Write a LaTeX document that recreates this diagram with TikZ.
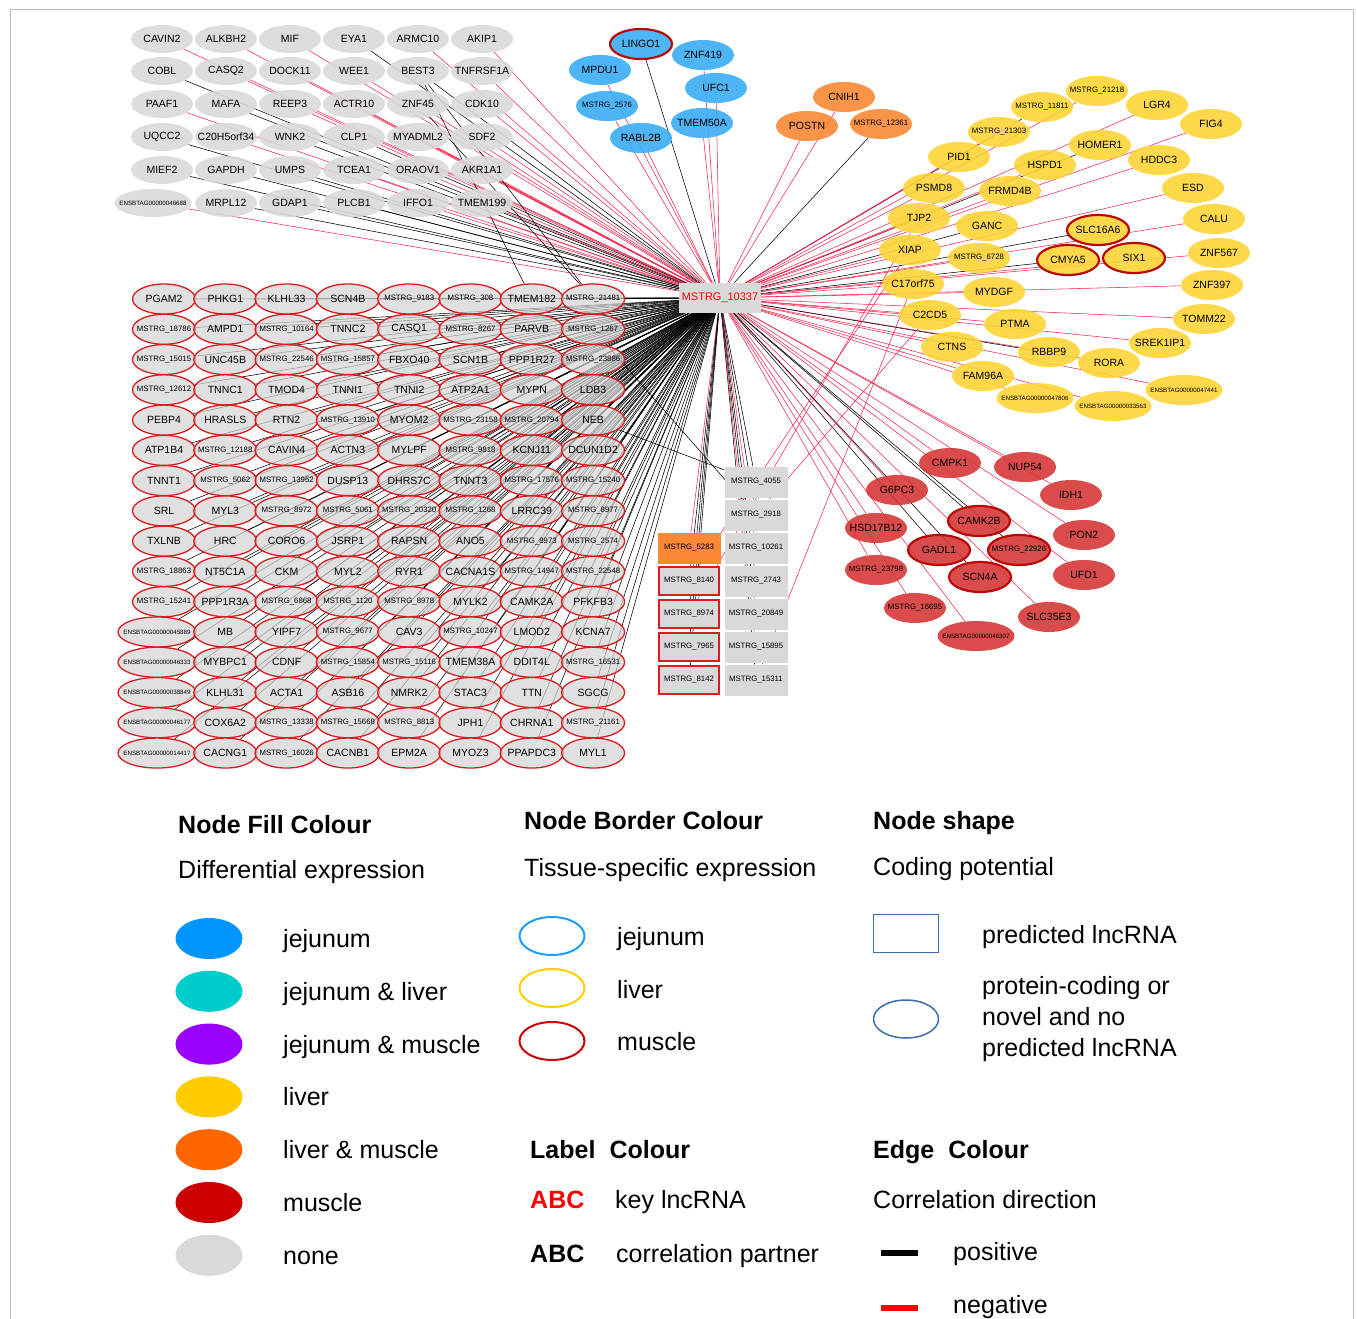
\documentclass[tikz,border=0pt]{standalone}
\usepackage{fontspec}
\setmainfont{Liberation Sans}
\usetikzlibrary{shapes.geometric}
\definecolor{nonegray}{RGB}{217,217,217}
\definecolor{gridgray}{RGB}{212,212,212}
\definecolor{musred}{RGB}{218,28,32}
\definecolor{thickred}{RGB}{185,8,8}
\definecolor{jblue}{RGB}{58,172,245}
\definecolor{lorange}{RGB}{250,136,52}
\definecolor{lyellow}{RGB}{253,212,55}
\definecolor{mred}{RGB}{214,56,56}
\definecolor{negred}{RGB}{242,40,80}
\definecolor{Lone}{RGB}{0,150,255}
\definecolor{Ltwo}{RGB}{0,204,204}
\definecolor{Lthree}{RGB}{153,0,255}
\definecolor{Lfour}{RGB}{255,204,0}
\definecolor{Lfive}{RGB}{255,102,0}
\definecolor{Lsix}{RGB}{204,0,0}
\definecolor{Lseven}{RGB}{217,217,217}
\definecolor{bordblue}{RGB}{30,155,255}
\definecolor{shapeblue}{RGB}{58,110,165}
\newcommand\fgene{\fontsize{10.5}{12}\selectfont}
\newcommand\fms{\fontsize{7.8}{9}\selectfont}
\newcommand\fens{\fontsize{6.2}{7}\selectfont}
\newcommand\fleg{\fontsize{25}{30}\selectfont}
\newcommand\fhead{\fontsize{25}{30}\selectfont\bfseries}
\newcommand\msl[1]{{\fms MSTRG\_#1}}
\newcommand\ens[1]{{\fens ENSBTAG#1}}
\pgfdeclarelayer{bg}
\pgfsetlayers{bg,main}
\tikzset{
  every node/.style={font=\fgene},
  basenode/.style={ellipse, minimum width=62pt, minimum height=30pt, inner xsep=-8pt, inner ysep=0pt, fill opacity=0.9, text opacity=1},
  plain/.style={},
  wide/.style={minimum width=77pt},
  tlnode/.style={basenode, fill=nonegray, minimum height=28pt},
  gridnode/.style={basenode, fill=gridgray, fill opacity=0.72, draw=musred, line width=1.3pt, minimum width=63pt},
  bnode/.style={basenode, fill=jblue},
  onode/.style={basenode, fill=lorange},
  ynode/.style={basenode, fill=lyellow},
  rnode/.style={basenode, fill=mred},
  hiborder/.style={draw=thickred, line width=2.2pt},
  rectnode/.style={rectangle, minimum width=63pt, minimum height=31pt, inner sep=0pt, fill=nonegray, font=\fms},
  lncbord/.style={draw=musred, line width=1.8pt},
  hubnode/.style={rectangle, fill=nonegray, minimum width=82pt, minimum height=30pt, inner sep=0pt, text=red, font=\fontsize{11}{13}\selectfont},
  posE/.style={draw=black, line width=0.55pt},
  negE/.style={draw=negred, line width=0.55pt},
  legtext/.style={anchor=base west, font=\fleg, inner sep=0pt},
  leghead/.style={anchor=base west, font=\fhead, inner sep=0pt},
}
\newcommand\tlrow[4]{\foreach \lab/\e [count=\c from #3] in {#4} {%
  \node[tlnode] (t#1-\c) at ({162+64*(\c-1)},#2) {\lab};
  \begin{pgfonlayer}{bg}\draw[\e] (hub) -- (t#1-\c);\end{pgfonlayer}}}
\newcommand\mgrow[3]{\foreach \lab [count=\c from #2] in {#3} {%
  \node[gridnode] (g#1-\c) at ({164+61.3*(\c-1)},{299+30.27*(#1-1)}) {\lab};
  \begin{pgfonlayer}{bg}\draw[posE] (hub) -- (g#1-\c);\end{pgfonlayer}}}
\newcommand\mens[2]{%
  \node[gridnode, minimum width=78pt] (g#1-1) at (157,{299+30.27*(#1-1)}) {\ens{#2}};
  \begin{pgfonlayer}{bg}\draw[posE] (hub) -- (g#1-1);\end{pgfonlayer}}
\begin{document}
\begin{tikzpicture}[x=1pt,y=-1pt]
\useasboundingbox (0,0) rectangle (1357,1319);
\draw[gray!55, line width=0.7pt] (10,1319) -- (10,9) -- (1353,9) -- (1353,1319);

% hub
\node[hubnode] (hub) at (720,298) {MSTRG\_10337};

% top-left gray block
\tlrow{1}{39}{1}{CAVIN2/negE,ALKBH2/negE,MIF/negE,EYA1/posE,ARMC10/negE,AKIP1/negE}
\tlrow{2}{71}{1}{COBL/posE,CASQ2/negE,DOCK11/negE,WEE1/negE,BEST3/posE,TNFRSF1A/negE}
\tlrow{3}{104}{1}{PAAF1/negE,MAFA/posE,REEP3/negE,ACTR10/negE,ZNF45/negE,CDK10/negE}
\tlrow{4}{137}{1}{UQCC2/posE,C20H5orf34/negE,WNK2/posE,CLP1/posE,MYADML2/negE,SDF2/negE}
\tlrow{5}{170}{1}{MIEF2/posE,GAPDH/posE,UMPS/posE,TCEA1/negE,ORAOV1/negE,AKR1A1/negE}
\node[tlnode, minimum width=77pt] (t6-1) at (153,203) {\ens{00000046688}};
\begin{pgfonlayer}{bg}\draw[negE] (hub) -- (t6-1);\end{pgfonlayer}
\tlrow{6}{203}{2}{MRPL12/posE,GDAP1/posE,PLCB1/posE,IFFO1/negE,TMEM199/negE}

% blue and orange
\foreach \nm/\lab/\x/\y/\e/\s in {bl1/LINGO1/641/44/posE/hiborder, bl2/ZNF419/703/55/negE/plain, bl3/MPDU1/600/70/negE/plain, bl4/UFC1/716/88/negE/plain, bl5/\msl{2576}/607/106/negE/plain, bl6/TMEM50A/702/123/negE/plain, bl7/RABL2B/641/138/negE/plain} {
  \node[bnode,\s] (\nm) at (\x,\y) {\lab};
  \begin{pgfonlayer}{bg}\draw[\e] (hub) -- (\nm);\end{pgfonlayer}}
\foreach \nm/\lab/\x/\y/\e in {or1/CNIH1/844/97/negE, or2/POSTN/807/126/negE, or3/\msl{12361}/881/124/posE} {
  \node[onode] (\nm) at (\x,\y) {\lab};
  \begin{pgfonlayer}{bg}\draw[\e] (hub) -- (\nm);\end{pgfonlayer}}

% yellow cluster
\foreach \nm/\lab/\x/\y/\e/\s in {
 ya/\msl{21218}/1097/91/negE/plain, yb/LGR4/1157/105/negE/plain, yc/\msl{11811}/1042/107/posE/plain,
 yd/FIG4/1211/124/negE/plain, ye/\msl{21303}/999/132/negE/plain, yf/HOMER1/1100/145/posE/plain,
 yg/PID1/959/157/negE/plain, yh/HDDC3/1159/160/negE/plain, yi/HSPD1/1045/165/negE/plain,
 yj/PSMD8/934/188/negE/plain, yk/ESD/1193/188/negE/plain, yl/FRMD4B/1010/191/negE/plain,
 ym/TJP2/919/218/negE/plain, yn/GANC/987/226/posE/plain, yo/CALU/1214/219/negE/plain,
 yp/SLC16A6/1098/230/posE/hiborder, yq/XIAP/910/250/negE/plain, yr/\msl{6728}/979/258/negE/plain,
 ys/CMYA5/1068/260/posE/hiborder, yt/SIX1/1134/258/negE/hiborder, yu/ZNF567/1219/253/negE/plain,
 yv/C17orf75/913/284/negE/plain, yw/MYDGF/994/292/negE/plain, yx/ZNF397/1212/285/negE/plain,
 yy/C2CD5/930/315/negE/plain, yz/PTMA/1015/324/negE/plain, yA/TOMM22/1204/319/negE/plain,
 yB/CTNS/952/347/negE/plain, yC/RBBP9/1049/352/negE/plain, yD/SREK1IP1/1160/343/negE/plain,
 yE/RORA/1109/363/posE/plain, yF/FAM96A/983/376/negE/plain, yG/\ens{00000047806}/1035/398/negE/wide,
 yH/\ens{00000047441}/1184/390/negE/wide, yI/\ens{00000033563}/1113/406/negE/wide} {
  \node[ynode,\s] (\nm) at (\x,\y) {\lab};
  \begin{pgfonlayer}{bg}\draw[\e] (hub) -- (\nm);\end{pgfonlayer}}

% red cluster
\foreach \nm/\lab/\x/\y/\e/\s in {
 rc1/CMPK1/950/463/negE/plain, rc2/NUP54/1025/467/negE/plain, rc3/G6PC3/897/490/negE/plain,
 rc4/IDH1/1071/495/negE/plain, rc5/HSD17B12/876/528/negE/plain, rc6/CAMK2B/979/521/posE/hiborder,
 rc7/PON2/1084/535/negE/plain, rc8/GADL1/939/550/posE/hiborder, rc9/\msl{22926}/1019/550/posE/hiborder,
 rc10/SCN4A/980/577/posE/hiborder, rc11/UFD1/1084/575/negE/plain, rc12/\msl{23798}/876/570/negE/plain,
 rc13/\msl{16695}/915/608/negE/plain, rc14/SLC35E3/1049/617/negE/plain, rc15/\ens{00000046307}/976/636/negE/wide} {
  \node[rnode,\s] (\nm) at (\x,\y) {\lab};
  \begin{pgfonlayer}{bg}\draw[\e] (hub) -- (\nm);\end{pgfonlayer}}

% lncRNA rectangles
\foreach \nm/\lab/\y/\e in {ra/4055/482/posE, rb/2918/515/posE, rc/10261/548/negE, rd/2743/581/posE, re/20849/614/posE, rf/15895/647/negE, rg/15311/680/posE} {
  \node[rectnode] (\nm) at (756,\y) {MSTRG\_\lab};
  \begin{pgfonlayer}{bg}\draw[\e] (hub) -- (\nm);\end{pgfonlayer}}
\node[rectnode, fill=lorange] (la) at (689,548) {MSTRG\_5283};
\begin{pgfonlayer}{bg}\draw[negE] (hub) -- (la);\end{pgfonlayer}
\foreach \nm/\lab/\y in {lb/8140/581, lc/8974/614, ld/7965/647, le/8142/680} {
  \node[rectnode, lncbord, minimum width=60pt, minimum height=28.5pt] (\nm) at (689,\y) {MSTRG\_\lab};
  \begin{pgfonlayer}{bg}\draw[posE] (hub) -- (\nm);\end{pgfonlayer}}

% muscle grid
\mgrow{1}{1}{PGAM2,PHKG1,KLHL33,SCN4B,\msl{9183},\msl{308},TMEM182,\msl{21481}}
\mgrow{2}{1}{\msl{18786},AMPD1,\msl{10164},TNNC2,CASQ1,\msl{8267},PARVB,\msl{1267}}
\mgrow{3}{1}{\msl{15015},UNC45B,\msl{22546},\msl{15857},FBXO40,SCN1B,PPP1R27,\msl{23886}}
\mgrow{4}{1}{\msl{12612},TNNC1,TMOD4,TNNI1,TNNI2,ATP2A1,MYPN,LDB3}
\mgrow{5}{1}{PEBP4,HRASLS,RTN2,\msl{13910},MYOM2,\msl{23158},\msl{20794},NEB}
\mgrow{6}{1}{ATP1B4,\msl{12188},CAVIN4,ACTN3,MYLPF,\msl{9818},KCNJ11,DCUN1D2}
\mgrow{7}{1}{TNNT1,\msl{5062},\msl{13952},DUSP13,DHRS7C,TNNT3,\msl{17576},\msl{15240}}
\mgrow{8}{1}{SRL,MYL3,\msl{8972},\msl{5061},\msl{20320},\msl{1268},LRRC39,\msl{8977}}
\mgrow{9}{1}{TXLNB,HRC,CORO6,JSRP1,RAPSN,ANO5,\msl{8973},\msl{2574}}
\mgrow{10}{1}{\msl{18863},NT5C1A,CKM,MYL2,RYR1,CACNA1S,\msl{14947},\msl{22548}}
\mgrow{11}{1}{\msl{15241},PPP1R3A,\msl{6868},\msl{1120},\msl{8978},MYLK2,CAMK2A,PFKFB3}
\mens{12}{00000045889}
\mgrow{12}{2}{MB,YIPF7,\msl{9677},CAV3,\msl{10247},LMOD2,KCNA7}
\mens{13}{00000046333}
\mgrow{13}{2}{MYBPC1,CDNF,\msl{15854},\msl{15116},TMEM38A,DDIT4L,\msl{16531}}
\mens{14}{00000038849}
\mgrow{14}{2}{KLHL31,ACTA1,ASB16,NMRK2,STAC3,TTN,SGCG}
\mens{15}{00000046177}
\mgrow{15}{2}{COX6A2,\msl{13338},\msl{15668},\msl{8813},JPH1,CHRNA1,\msl{21161}}
\mens{16}{00000014417}
\mgrow{16}{2}{CACNG1,\msl{16026},CACNB1,EPM2A,MYOZ3,PPAPDC3,MYL1}

% other correlations
\begin{pgfonlayer}{bg}
\draw[posE] (t2-5) -- (g1-7);
\draw[posE] (t2-5) -- (g1-8);
\draw[posE] (t3-5) -- (g1-8);
\draw[posE] (g2-8) -- (rb);
\draw[posE] (g5-8) -- (ra);
\draw[negE] (lb) -- (yq);
\draw[negE] (lc) -- (ym);
\draw[negE] (rg) -- (yv);
\draw[negE] (rb) -- (yy);
\end{pgfonlayer}

% ---------- legend ----------
\node[leghead] (h1) at (178,833) {Node Fill Colour};
\node[legtext] (s1) at (178,878) {Differential expression};
\foreach \col/\lab [count=\i from 0] in {Lone/jejunum, Ltwo/jejunum \& liver, Lthree/jejunum \& muscle, Lfour/liver, Lfive/liver \& muscle, Lsix/muscle, Lseven/none} {
  \node[ellipse, fill=\col, minimum width=67pt, minimum height=41pt, inner sep=0pt] (fe\i) at (209,{938.5+52.8*\i}) {};
  \node[legtext] (ft\i) at (283,{947.5+52.8*\i}) {\lab};
}
\node[leghead] (h2) at (524,829) {Node Border Colour};
\node[legtext] (s2) at (524,876) {Tissue-specific expression};
\foreach \col/\lab/\y/\b [count=\i] in {bordblue/jejunum/936/945, Lfour/liver/988/998, Lsix/muscle/1041/1050} {
  \node[ellipse, draw=\col, line width=2pt, minimum width=65pt, minimum height=38pt, inner sep=0pt] (be\i) at (552,\y) {};
  \node[legtext] (bt\i) at (617,\b) {\lab};
}
\node[leghead] (h3) at (530,1158) {Label\hspace{14pt}Colour};
\node[leghead, text=red] (abc1) at (530,1208) {ABC};
\node[legtext] (k1) at (615,1208) {key lncRNA};
\node[leghead] (abc2) at (530,1262) {ABC};
\node[legtext] (k2) at (616,1262) {correlation partner};

\node[leghead] (h4) at (873,829) {Node shape};
\node[legtext] (s4) at (873,875) {Coding potential};
\node[rectangle, draw=shapeblue, line width=1.5pt, minimum width=65pt, minimum height=38pt, inner sep=0pt] (shr) at (906,933.5) {};
\node[legtext] (shrt) at (982,943) {predicted lncRNA};
\node[ellipse, draw=shapeblue, line width=1.5pt, minimum width=65pt, minimum height=38pt, inner sep=0pt] (she) at (906,1019) {};
\node[legtext] (shet1) at (982,994) {protein-coding or};
\node[legtext] (shet2) at (982,1025) {novel and no};
\node[legtext] (shet3) at (982,1056) {predicted lncRNA};

\node[leghead] (h5) at (873,1158) {Edge\hspace{14pt}Colour};
\node[legtext] (s5) at (873,1208) {Correlation direction};
\node[rectangle, fill=black, minimum width=37pt, minimum height=6pt, inner sep=0pt] (pbar) at (899.5,1253) {};
\node[legtext] (pt) at (953,1260) {positive};
\node[rectangle, fill=red, minimum width=37pt, minimum height=6pt, inner sep=0pt] (nbar) at (899.5,1308) {};
\node[legtext] (nt) at (953,1313) {negative};
\end{tikzpicture}
\end{document}
